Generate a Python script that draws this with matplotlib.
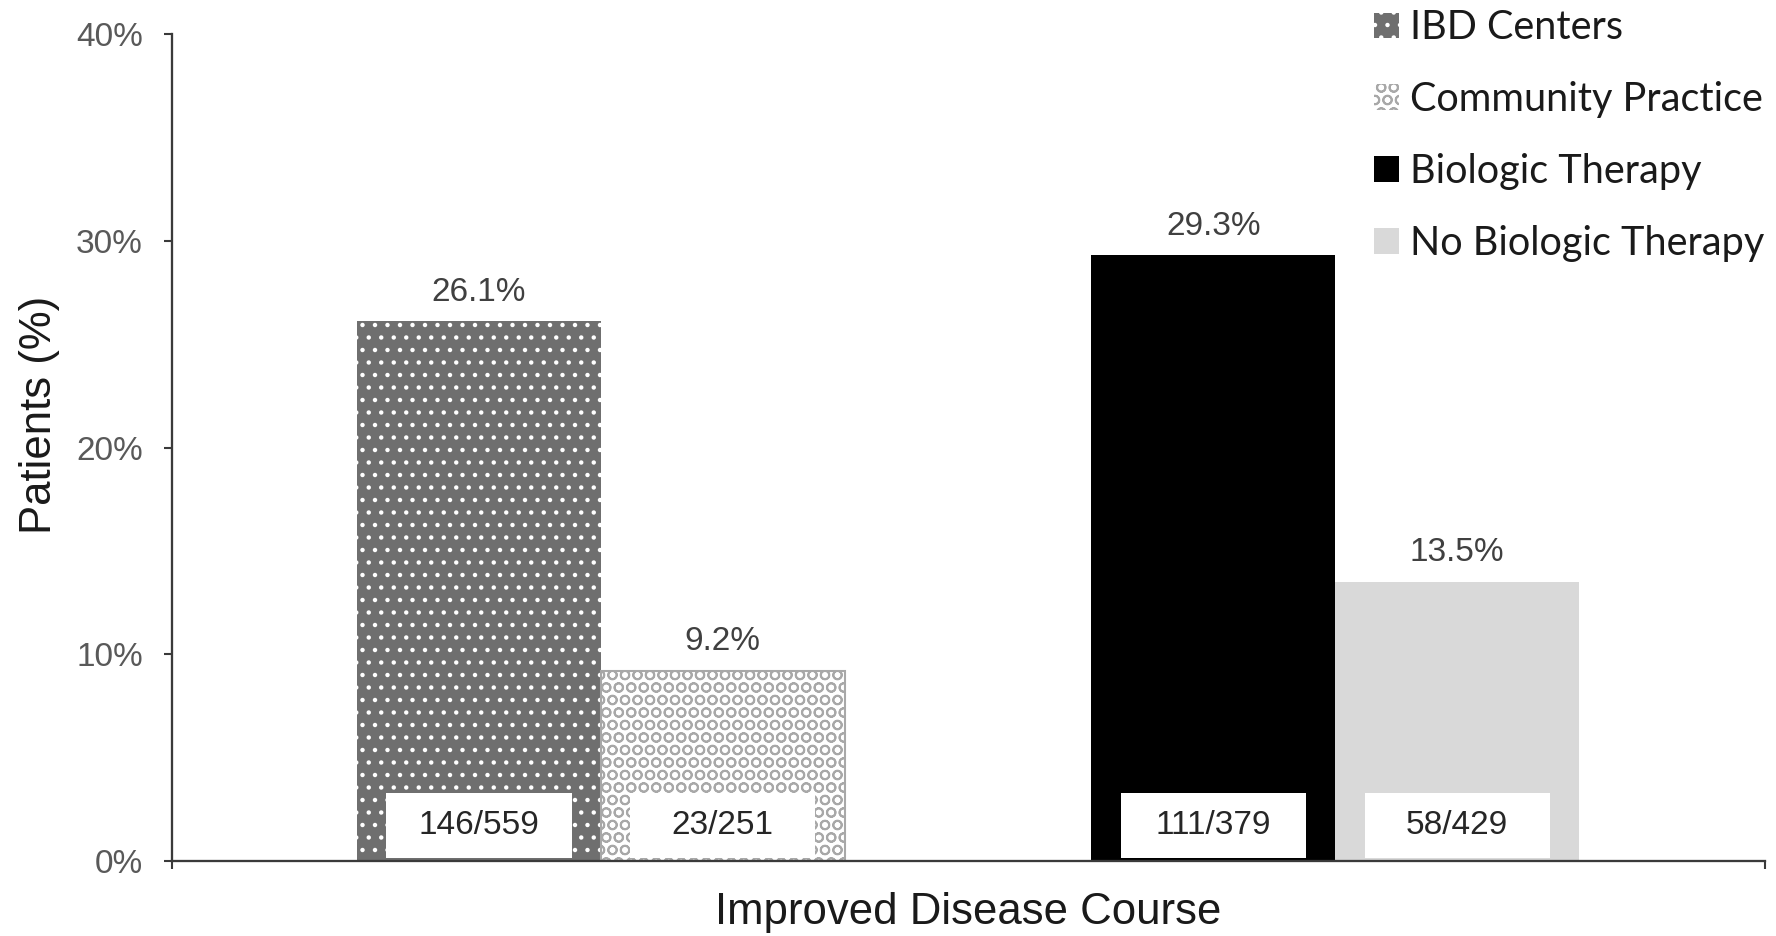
import matplotlib
matplotlib.use("Agg")
import matplotlib.pyplot as plt
from matplotlib.patches import Patch, Rectangle

# ---- data -------------------------------------------------------------
category = "Improved Disease Course"
series = ["IBD Centers", "Community Practice", "Biologic Therapy", "No Biologic Therapy"]
values = [26.1, 9.2, 29.3, 13.5]
counts = ["146/559", "23/251", "111/379", "58/429"]
group = [0, 0, 1, 1]
y_ticks = [0, 10, 20, 30, 40]

# ---- styles -----------------------------------------------------------
faces = ["#6f6f6f", "#ffffff", "#000000", "#d9d9d9"]
hatch_cols = ["#ffffff", "#a8a8a8", "#000000", "#d9d9d9"]
hatches = ["..", "OO", None, None]
edge_lw = [0, 1.0, 0, 0]

plt.rcParams["font.family"] = ["Liberation Sans", "DejaVu Sans"]
plt.rcParams["hatch.linewidth"] = 0.9

DPI = 150
fig = plt.figure(figsize=(1777 / DPI, 936 / DPI), dpi=DPI)
ax = fig.add_axes([0.0968, 0.0801, 0.8964, 0.8836])

bar_w = 0.332
offsets = [-bar_w / 2, bar_w / 2, -bar_w / 2, bar_w / 2]
xs = [g + o for g, o in zip(group, offsets)]

handles = []
for x, v, fc, hc, h, lw, lab, cnt in zip(xs, values, faces, hatch_cols,
                                         hatches, edge_lw, series, counts):
    ax.bar(x, v, width=bar_w, color=fc, edgecolor=hc, hatch=h,
           linewidth=lw, zorder=2)
    handles.append(Patch(facecolor=fc, edgecolor=hc, hatch=h, linewidth=0,
                         label=lab))
    ax.annotate(f"{v:.1f}%", (x, v), xytext=(0, 6.5), textcoords="offset points",
                ha="center", va="bottom", fontsize=16, color="#404040")
    bw, bh, b0 = 0.252, 3.15, 0.15
    ax.add_patch(Rectangle((x - bw / 2, b0), bw, bh, facecolor="white",
                           edgecolor="none", zorder=3))
    ax.text(x, b0 + bh / 2, cnt, ha="center", va="center", fontsize=16,
            color="#262626", zorder=4)

xlo, xhi = -0.584, 1.585
ax.set_xlim(xlo, xhi)
ax.set_ylim(0, 40)
ax.set_yticks(y_ticks)
ax.set_yticklabels([f"{t}%" for t in y_ticks])
ax.set_xticks([xlo, xhi])
ax.set_xticklabels([])

for s in ["top", "right"]:
    ax.spines[s].set_visible(False)
for s in ["left", "bottom"]:
    ax.spines[s].set_color("#3a3a3a")
    ax.spines[s].set_linewidth(1.1)
ax.tick_params(axis="both", direction="out", length=4, width=1.0,
               color="#3a3a3a")
ax.tick_params(axis="y", labelsize=16, labelcolor="#595959", pad=10)

ax.set_ylabel("Patients (%)", fontsize=21, color="#1a1a1a", va="center")
ax.yaxis.set_label_coords(-0.0835, 0.54)
ax.set_xlabel(category, fontsize=21, color="#1a1a1a", va="center")
ax.xaxis.set_label_coords(0.5, -0.0617)

ax.legend(handles=handles, loc="upper left",
          bbox_to_anchor=(1374 / 1777, 0.990), bbox_transform=fig.transFigure,
          frameon=False, borderpad=0, borderaxespad=0,
          handlelength=0.62, handleheight=0.62, handletextpad=0.3,
          labelspacing=0.88,
          prop={"family": ["Lato", "DejaVu Sans"], "size": 19})
for t in ax.get_legend().get_texts():
    t.set_color("#1a1a1a")

fig.savefig("out.png", dpi=DPI, facecolor="white")
